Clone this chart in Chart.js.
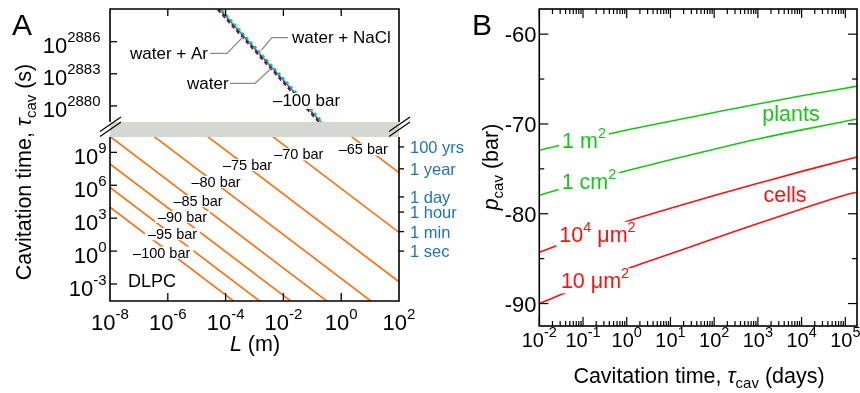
<!DOCTYPE html>
<html>
<head>
<meta charset="utf-8">
<script src="https://cdn.jsdelivr.net/npm/chart.js@4.4.1/dist/chart.umd.min.js"></script>
<style>
  body { margin: 0; background: #fff; }
  #wrap { position: relative; width: 860px; height: 393px; }
  #wrap canvas { position: absolute; left: 0; top: 0; }
</style>
</head>
<body>
<div id="wrap">
  <canvas id="aTop" width="860" height="393"></canvas>
  <canvas id="aBot" width="860" height="393"></canvas>
  <canvas id="b" width="860" height="393"></canvas>
</div>
<script>
// ---------- data ----------
// Panel A, lower part: DLPC, log10(tau / s) read at both ends of the L axis
const lEnds = [1e-8, 1e2];
const dlpcBars = [-100, -95, -90, -85, -80, -75, -70, -65];
const dlpcLogTauAtLmin = [4.0, 5.8, 7.95, 10.45, 13.5, 17.2, 21.7, 27.15];
const dlpcLogTauAtLmax = [-16.0, -14.2, -12.05, -9.55, -6.5, -2.8, 1.7, 7.15];

// Panel A, upper part: water at -100 bar, log10(tau / s) at both L ends
const waterSeries = ['water + Ar', 'water (2)', 'water + NaCl', 'water'];
const waterLogTauAtLmin = [2900.15, 2900.3, 2900.6, 2900.4];
const waterLogTauAtLmax = [2870.15, 2870.3, 2870.6, 2870.4];

// Panel A tick values
const aXTickExps = [-8, -6, -4, -2, 0, 2];
const aTopTickExps = [2880, 2883, 2886];
const aBotTickExps = [-3, 0, 3, 6, 9];
const timeLabels = ['100 yrs', '1 year', '1 day', '1 hour', '1 min', '1 sec'];
const timeSeconds = [3.156e9, 3.156e7, 86400, 3600, 60, 1];

// Panel B: p_cav (bar) against cavitation time (days)
const bDays = [0.01, 0.1, 1, 10, 100, 1000, 1e4, 1e5, 1.85e5];
const p1m2 = [-72.93, -71.76, -70.68, -69.69, -68.72, -67.77, -66.87, -66.02, -65.79];
const p1cm2 = [-77.94, -76.53, -75.22, -73.98, -72.81, -71.68, -70.66, -69.70, -69.45];
const p1e4um2 = [-84.28, -82.48, -80.86, -79.39, -77.96, -76.61, -75.28, -74.02, -73.67];
const p10um2 = [-90.0, -87.98, -86.14, -84.45, -82.76, -81.08, -79.47, -77.91, -77.6];
const bXTickExps = [-2, -1, 0, 1, 2, 3, 4, 5];
const bYTicks = [-90, -80, -70, -60];
const bYMinor = [-85, -75, -65];

// ---------- drawing helpers ----------
const FAM = "'Liberation Sans', Arial, Helvetica, sans-serif";
const ORANGE = '#ff6d0a';
const GREEN = '#14c814';
const RED = '#ff1010';
const BLUE_TXT = '#1f74b8';

function font(size, italic) {
  return (italic ? 'italic ' : '') + size + 'px ' + FAM;
}

function runsWidth(ctx, runs) {
  let w = 0;
  runs.forEach(r => { ctx.font = font(r.size, r.italic); w += ctx.measureText(r.t).width; });
  return w;
}

function drawRuns(ctx, runs, x, y, align, color) {
  const w = runsWidth(ctx, runs);
  let cx = align === 'center' ? x - w / 2 : align === 'right' ? x - w : x;
  ctx.fillStyle = color || '#000';
  ctx.textAlign = 'left';
  ctx.textBaseline = 'alphabetic';
  runs.forEach(r => {
    ctx.font = font(r.size, r.italic);
    ctx.fillText(r.t, cx, y + (r.dy || 0));
    cx += ctx.measureText(r.t).width;
  });
  return w;
}

// label that breaks the line it sits on
function boxedRuns(ctx, runs, cx, base, up, down, color) {
  const w = runsWidth(ctx, runs);
  ctx.fillStyle = '#fff';
  ctx.fillRect(cx - w / 2 - 3, base - up, w + 6, up + down);
  drawRuns(ctx, runs, cx, base, 'center', color);
}

function pow10(exp, big, small, dy) {
  return [{ t: '10', size: big }, { t: String(exp), size: small, dy: dy }];
}

function line(ctx, x1, y1, x2, y2) {
  ctx.beginPath();
  ctx.moveTo(x1, y1);
  ctx.lineTo(x2, y2);
  ctx.stroke();
}

// ---------- panel A, upper ----------
const aTopDeco = {
  id: 'aTopDeco',
  afterDraw(chart) {
    const ctx = chart.ctx, sx = chart.scales.x, sy = chart.scales.y, a = chart.chartArea;
    ctx.save();
    boxedRuns(ctx, [{ t: '\u2013100 bar', size: 17 }], 306.5, 106, 13, 3, '#000');

    // leaders
    ctx.strokeStyle = '#8a8a8a';
    ctx.lineWidth = 1.2;
    ctx.beginPath(); ctx.moveTo(210, 53.3); ctx.lineTo(227, 53.3); ctx.lineTo(243, 37); ctx.stroke();
    ctx.beginPath(); ctx.moveTo(288, 37.7); ctx.lineTo(272, 37.7); ctx.lineTo(261.5, 50); ctx.stroke();
    ctx.beginPath(); ctx.moveTo(230, 83.3); ctx.lineTo(255, 83.3); ctx.lineTo(271.5, 68.3); ctx.stroke();
    drawRuns(ctx, [{ t: 'water + Ar', size: 17 }], 130, 58.5, 'left');
    drawRuns(ctx, [{ t: 'water + NaCl', size: 17 }], 292, 42.5, 'left');
    drawRuns(ctx, [{ t: 'water', size: 17 }], 187, 88.5, 'left');

    // frame
    ctx.strokeStyle = '#000';
    ctx.lineWidth = 1.6;
    ctx.beginPath();
    ctx.moveTo(a.left, a.bottom); ctx.lineTo(a.left, a.top);
    ctx.lineTo(a.right, a.top); ctx.lineTo(a.right, a.bottom);
    ctx.stroke();

    ctx.lineWidth = 1.3;
    aXTickExps.slice(1, -1).forEach(e => {
      const px = sx.getPixelForValue(Math.pow(10, e));
      line(ctx, px, a.top, px, a.top + 7);
    });
    aTopTickExps.forEach(e => {
      const py = sy.getPixelForValue(e);
      line(ctx, a.left, py, a.left + 7, py);
      drawRuns(ctx, pow10(e, 22, 15, -11.5), 100.5, py + 11.5, 'right');
    });
    ctx.restore();
  }
};

// ---------- panel A, lower ----------
const dlpcLabelPos = [
  [161.7, 252.5], [172.5, 234], [182.5, 216.7], [198, 201],
  [216, 181.7], [247.5, 165], [298.8, 154.2], [363.3, 149.2]
];

const aBotDeco = {
  id: 'aBotDeco',
  afterDraw(chart) {
    const ctx = chart.ctx, sx = chart.scales.x, sy = chart.scales.y, a = chart.chartArea;
    ctx.save();

    dlpcBars.forEach((b, i) => {
      const p = dlpcLabelPos[i];
      boxedRuns(ctx, [{ t: '\u2013' + Math.abs(b) + ' bar', size: 14.5 }], p[0], p[1] + 5.2, 11, 1, '#000');
    });
    drawRuns(ctx, [{ t: 'DLPC', size: 18 }], 128, 287, 'left');

    // axis break band
    ctx.fillStyle = '#d3d9d1';
    ctx.fillRect(a.left, 122, a.right - a.left, a.top - 122);
    ctx.strokeStyle = '#000';
    ctx.lineWidth = 1.2;
    [a.left, a.right].forEach(bx => {
      line(ctx, bx - 10, 131.5, bx + 11, 117);
      line(ctx, bx - 10, 136.5, bx + 11, 122);
    });

    // frame
    ctx.lineWidth = 1.6;
    ctx.beginPath();
    ctx.moveTo(a.left, a.top); ctx.lineTo(a.left, a.bottom);
    ctx.lineTo(a.right, a.bottom); ctx.lineTo(a.right, a.top);
    ctx.stroke();

    ctx.lineWidth = 1.3;
    aXTickExps.forEach((e, i) => {
      const px = sx.getPixelForValue(Math.pow(10, e));
      if (i > 0 && i < aXTickExps.length - 1) line(ctx, px, a.bottom, px, a.bottom - 8);
      drawRuns(ctx, pow10(e, 22, 15, -11.5), px, 330, 'center');
    });
    aBotTickExps.forEach(e => {
      const py = sy.getPixelForValue(e);
      line(ctx, a.left, py, a.left + 7, py);
      drawRuns(ctx, pow10(e, 22, 15, -11), 106.5, py + 12, 'right');
    });
    timeSeconds.forEach((s, i) => {
      const py = sy.getPixelForValue(Math.log10(s));
      line(ctx, a.right, py, a.right + 5, py);
      drawRuns(ctx, [{ t: timeLabels[i], size: 16.5 }], 410, py + 6, 'left', BLUE_TXT);
    });

    // titles
    drawRuns(ctx, [{ t: 'L', size: 21.5, italic: true }, { t: ' (m)', size: 21.5 }], 255, 351, 'center');
    ctx.save();
    ctx.translate(31, 172);
    ctx.rotate(-Math.PI / 2);
    drawRuns(ctx, [
      { t: 'Cavitation time, ', size: 21.5 },
      { t: '\u03c4', size: 21.5, italic: true },
      { t: 'cav', size: 15, dy: 5 },
      { t: ' (s)', size: 21.5 }
    ], 0, 0, 'center');
    ctx.restore();
    drawRuns(ctx, [{ t: 'A', size: 30 }], 12, 35, 'left');
    ctx.restore();
  }
};

// ---------- panel B ----------
const bDeco = {
  id: 'bDeco',
  afterDraw(chart) {
    const ctx = chart.ctx, sx = chart.scales.x, sy = chart.scales.y, a = chart.chartArea;
    ctx.save();

    boxedRuns(ctx, [{ t: '1 m', size: 21.5 }, { t: '2', size: 14.5, dy: -10 }], 584, 147.5, 17, 3, GREEN);
    boxedRuns(ctx, [{ t: '1 cm', size: 21.5 }, { t: '2', size: 14.5, dy: -10 }], 589, 189.3, 17, 3, GREEN);
    boxedRuns(ctx, [{ t: '10', size: 21.5 }, { t: '4', size: 14.5, dy: -10 }, { t: ' \u03bcm', size: 21.5 }, { t: '2', size: 14.5, dy: -10 }], 597.5, 241.7, 20, 5, RED);
    boxedRuns(ctx, [{ t: '10 \u03bcm', size: 21.5 }, { t: '2', size: 14.5, dy: -10 }], 595, 288.3, 20, 5, RED);
    drawRuns(ctx, [{ t: 'plants', size: 21.5 }], 791, 120.7, 'center', GREEN);
    drawRuns(ctx, [{ t: 'cells', size: 21.5 }], 785, 201.5, 'center', RED);

    ctx.strokeStyle = '#000';
    ctx.lineWidth = 1.6;
    ctx.strokeRect(a.left, a.top, a.right - a.left, a.bottom - a.top);

    ctx.lineWidth = 1.2;
    for (let e = -2; e <= 5; e++) {
      for (let m = 1; m <= 9; m++) {
        const v = m * Math.pow(10, e);
        if (v > sx.max) break;
        const px = sx.getPixelForValue(v);
        const len = m === 1 ? 9 : 5;
        line(ctx, px, a.bottom, px, a.bottom - len);
        line(ctx, px, a.top, px, a.top + len);
      }
    }
    bXTickExps.forEach(e => {
      drawRuns(ctx, pow10(e, 20, 14.5, -10.5), sx.getPixelForValue(Math.pow(10, e)), 347, 'center');
    });
    bYTicks.forEach(v => {
      const py = sy.getPixelForValue(v);
      line(ctx, a.left, py, a.left + 9, py);
      line(ctx, a.right, py, a.right - 9, py);
      drawRuns(ctx, [{ t: String(v), size: 22 }], 536.5, py + 8, 'right');
    });
    bYMinor.forEach(v => {
      const py = sy.getPixelForValue(v);
      line(ctx, a.left, py, a.left + 5, py);
      line(ctx, a.right, py, a.right - 5, py);
    });

    drawRuns(ctx, [
      { t: 'Cavitation time, ', size: 21.5 },
      { t: '\u03c4', size: 21.5, italic: true },
      { t: 'cav', size: 15, dy: 5 },
      { t: ' (days)', size: 21.5 }
    ], 699, 383, 'center');
    ctx.save();
    ctx.translate(498, 167);
    ctx.rotate(-Math.PI / 2);
    drawRuns(ctx, [
      { t: 'p', size: 21.5, italic: true },
      { t: 'cav', size: 15, dy: 5 },
      { t: ' (bar)', size: 21.5 }
    ], 0, 0, 'center');
    ctx.restore();
    drawRuns(ctx, [{ t: 'B', size: 30 }], 472, 35, 'left');
    ctx.restore();
  }
};

// ---------- charts ----------
function makeChart(id, datasets, xScale, yScale, area, deco) {
  return new Chart(document.getElementById(id), {
    type: 'line',
    data: { datasets: datasets },
    options: {
      responsive: false,
      devicePixelRatio: 1,
      animation: false,
      events: [],
      layout: { padding: { left: area[0], top: area[1], right: 860 - area[2], bottom: 393 - area[3] } },
      scales: {
        x: Object.assign({ display: false }, xScale),
        y: Object.assign({ display: false }, yScale)
      },
      plugins: { legend: { display: false }, tooltip: { enabled: false } },
      elements: { point: { radius: 0 }, line: { borderWidth: 1.6, fill: false } }
    },
    plugins: [deco]
  });
}

function ends(y0, y1) {
  return [{ x: lEnds[0], y: y0 }, { x: lEnds[1], y: y1 }];
}

const waterStyles = [
  { borderColor: '#a00000', borderDash: [4, 3] },
  { borderColor: '#1c1c5c', borderDash: [4, 3], borderWidth: 1.1 },
  { borderColor: '#22cc22', borderDash: [3, 3] },
  { borderColor: '#1e88ff' }
];

makeChart('aTop',
  waterSeries.map((name, i) => Object.assign({
    label: name,
    data: ends(waterLogTauAtLmin[i], waterLogTauAtLmax[i])
  }, waterStyles[i])),
  { type: 'logarithmic', min: 1e-8, max: 1e2 },
  { type: 'linear', min: 2878.5, max: 2889.05 },
  [110, 9, 399, 122], aTopDeco);

makeChart('aBot',
  dlpcBars.map((b, i) => ({
    label: b + ' bar',
    data: ends(dlpcLogTauAtLmin[i], dlpcLogTauAtLmax[i]),
    borderColor: ORANGE
  })),
  { type: 'logarithmic', min: 1e-8, max: 1e2 },
  { type: 'linear', min: -4.55, max: 10.4 },
  [110, 137, 399, 301], aBotDeco);

function bSeries(label, values, color) {
  return {
    label: label,
    data: bDays.map((d, i) => ({ x: d, y: values[i] })),
    borderColor: color,
    cubicInterpolationMode: 'monotone'
  };
}

makeChart('b',
  [
    bSeries('1 m2', p1m2, GREEN),
    bSeries('1 cm2', p1cm2, GREEN),
    bSeries('10^4 um2', p1e4um2, RED),
    bSeries('10 um2', p10um2, RED)
  ],
  { type: 'logarithmic', min: 0.01, max: 1.85e5 },
  { type: 'linear', min: -92.5, max: -57.2 },
  [539.3, 9, 857, 326], bDeco);
</script>
</body>
</html>
